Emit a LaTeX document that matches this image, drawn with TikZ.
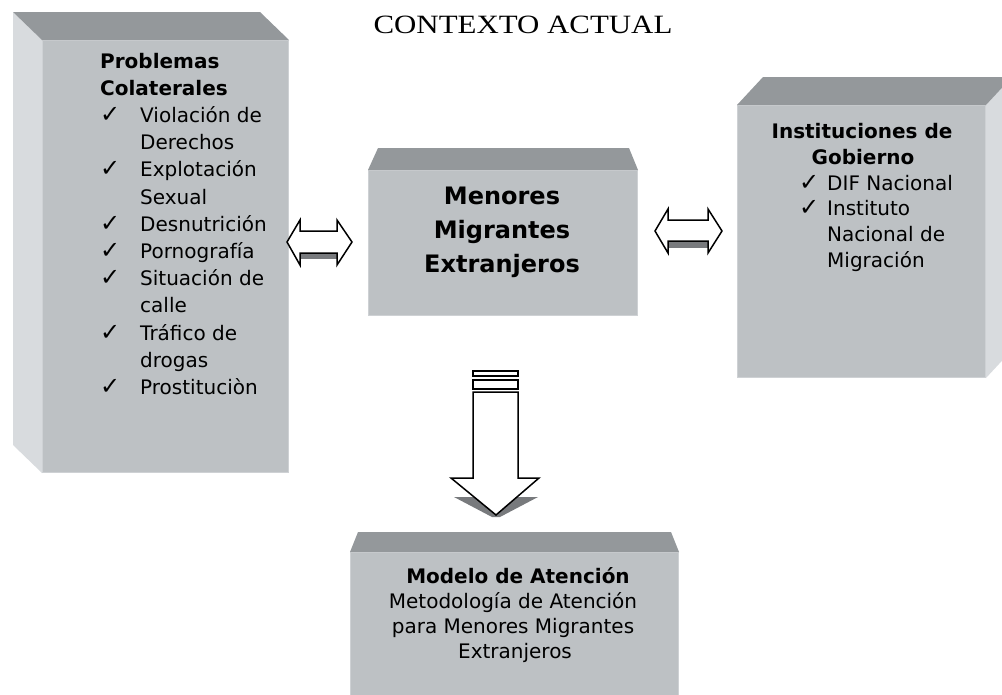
\documentclass[tikz,border=0pt]{standalone}
\usepackage{graphicx}
\usepackage{fontspec}
\setmainfont{Liberation Serif}
\newfontfamily\dv{DejaVu Sans}
\usetikzlibrary{calc}
\definecolor{frontc}{RGB}{189,193,196}
\definecolor{topc}{RGB}{148,152,155}
\definecolor{sidec}{RGB}{216,219,222}
\definecolor{edgec}{RGB}{206,209,212}
\definecolor{shadec}{RGB}{120,122,125}
\begin{document}
\begin{tikzpicture}[x=1pt,y=-1pt,
  face/.style={fill=frontc,draw=edgec,line width=1pt,inner sep=0pt,anchor=north west},
  topface/.style={fill=topc},
  sideface/.style={fill=sidec},
  txt/.style={inner sep=0pt,font=\dv\fontsize{20}{24}\selectfont},
  chktxt/.style={inner sep=0pt,font=\dv\fontsize{24}{24}\selectfont},
  btxt/.style={inner sep=0pt,font=\dv\bfseries\fontsize{20}{24}\selectfont},
  bigtxt/.style={inner sep=0pt,font=\dv\bfseries\fontsize{24}{28}\selectfont},
  blockarrow/.style={fill=white,draw=black,line width=1.5pt,line join=miter},
  shadow/.style={fill=shadec}]
\useasboundingbox (0,0) rectangle (1002,694);
\clip (0,0) rectangle (1002,694);

% title
\node[anchor=base,inner sep=0pt,font=\fontsize{26.4}{30}\selectfont] (title) at (523,33) {\scalebox{1.17}[1]{CONTEXTO ACTUAL}};

% left box
\node[face,minimum width=246pt,minimum height=432pt] (left) at (42,40) {};
\fill[sideface] (left.north west) -- ++(-29,-28) -- ($(left.south west)+(-29,-28)$) -- (left.south west) -- cycle;
\fill[topface] (left.north west) -- ++(-29,-28) -- ($(left.north east)+(-29,-28)$) -- (left.north east) -- cycle;

% right box
\node[face,minimum width=248pt,minimum height=272pt] (right) at (737,105) {};
\fill[sideface] (right.north east) -- ++(26,-28) -- ($(right.south east)+(26,-28)$) -- (right.south east) -- cycle;
\fill[topface] (right.north west) -- ++(26,-28) -- ($(right.north east)+(26,-28)$) -- (right.north east) -- cycle;

% middle box
\node[face,minimum width=269pt,minimum height=145pt] (mid) at (368,170) {};
\fill[topface] (mid.north west) -- ++(10,-22) -- ($(mid.north east)+(-9,-22)$) -- (mid.north east) -- cycle;

% bottom box
\node[face,minimum width=328pt,minimum height=160pt] (bot) at (350,552) {};
\fill[topface] (bot.north west) -- ++(8,-20) -- ($(bot.north east)+(-8,-20)$) -- (bot.north east) -- cycle;

% left text
\node[btxt,anchor=base west] (lh1) at (100,68) {Problemas};
\node[btxt,anchor=base west] (lh2) at (100,95.2) {Colaterales};
\foreach \c/\t [count=\i from 2] in {1/Violación de,0/Derechos,1/Explotación,0/Sexual,1/Desnutrición,1/Pornografía,1/Situación de,0/calle,1/Tráfico de,0/drogas,1/Prostituciòn}{
  \node[txt,anchor=base west] (la\i) at (140,68+27.2*\i) {\t};
  \ifnum\c=1 \node[chktxt,anchor=base west] (lc\i) at (100,68+27.2*\i) {✓};\fi
}

% right text
\node[btxt,anchor=base] (rh1) at (862,138) {Instituciones de};
\node[btxt,anchor=base] (rh2) at (863,164) {Gobierno};
\foreach \c/\t [count=\i from 0] in {1/DIF Nacional,1/Instituto,0/Nacional de,0/Migración}{
  \node[txt,anchor=base west] (ra\i) at (827,190+25.7*\i) {\t};
  \ifnum\c=1 \node[chktxt,anchor=base west] (rc\i) at (799,190+25.7*\i) {✓};\fi
}

% middle text
\node[bigtxt,anchor=base] (m1) at (502,204) {Menores};
\node[bigtxt,anchor=base] (m2) at (502,238) {Migrantes};
\node[bigtxt,anchor=base] (m3) at (502,272) {Extranjeros};

% bottom text
\node[btxt,anchor=base] (b1) at (518,583) {Modelo de Atención};
\node[txt,anchor=base] (b2) at (513,608) {Metodología de Atención};
\node[txt,anchor=base] (b3) at (513,633) {para Menores Migrantes};
\node[txt,anchor=base] (b4) at (515,658) {Extranjeros};

% left double arrow
\fill[shadow] (300,253) rectangle (337,259);
\draw[blockarrow] (287,242) -- (300,220) -- (300,231) -- (337,231) -- (337,220) -- (352,242) -- (337,265) -- (337,253) -- (300,253) -- (300,265) -- cycle;

% right double arrow
\fill[shadow] (668,241) rectangle (708,248);
\draw[blockarrow] (655,231) -- (668,209) -- (668,220) -- (708,220) -- (708,209) -- (722,231) -- (708,253) -- (708,241) -- (668,241) -- (668,253) -- cycle;

% down arrow
\fill[shadow] (454,497) -- (538,497) -- (500,517) -- (492,517) -- cycle;
\draw[blockarrow] (473,392) -- (473,478) -- (451,478) -- (496,515) -- (539,478) -- (518,478) -- (518,392) -- cycle;
\draw[blockarrow] (473,380) rectangle (518,389);
\draw[blockarrow] (473,371) rectangle (518,376);
\end{tikzpicture}
\end{document}
